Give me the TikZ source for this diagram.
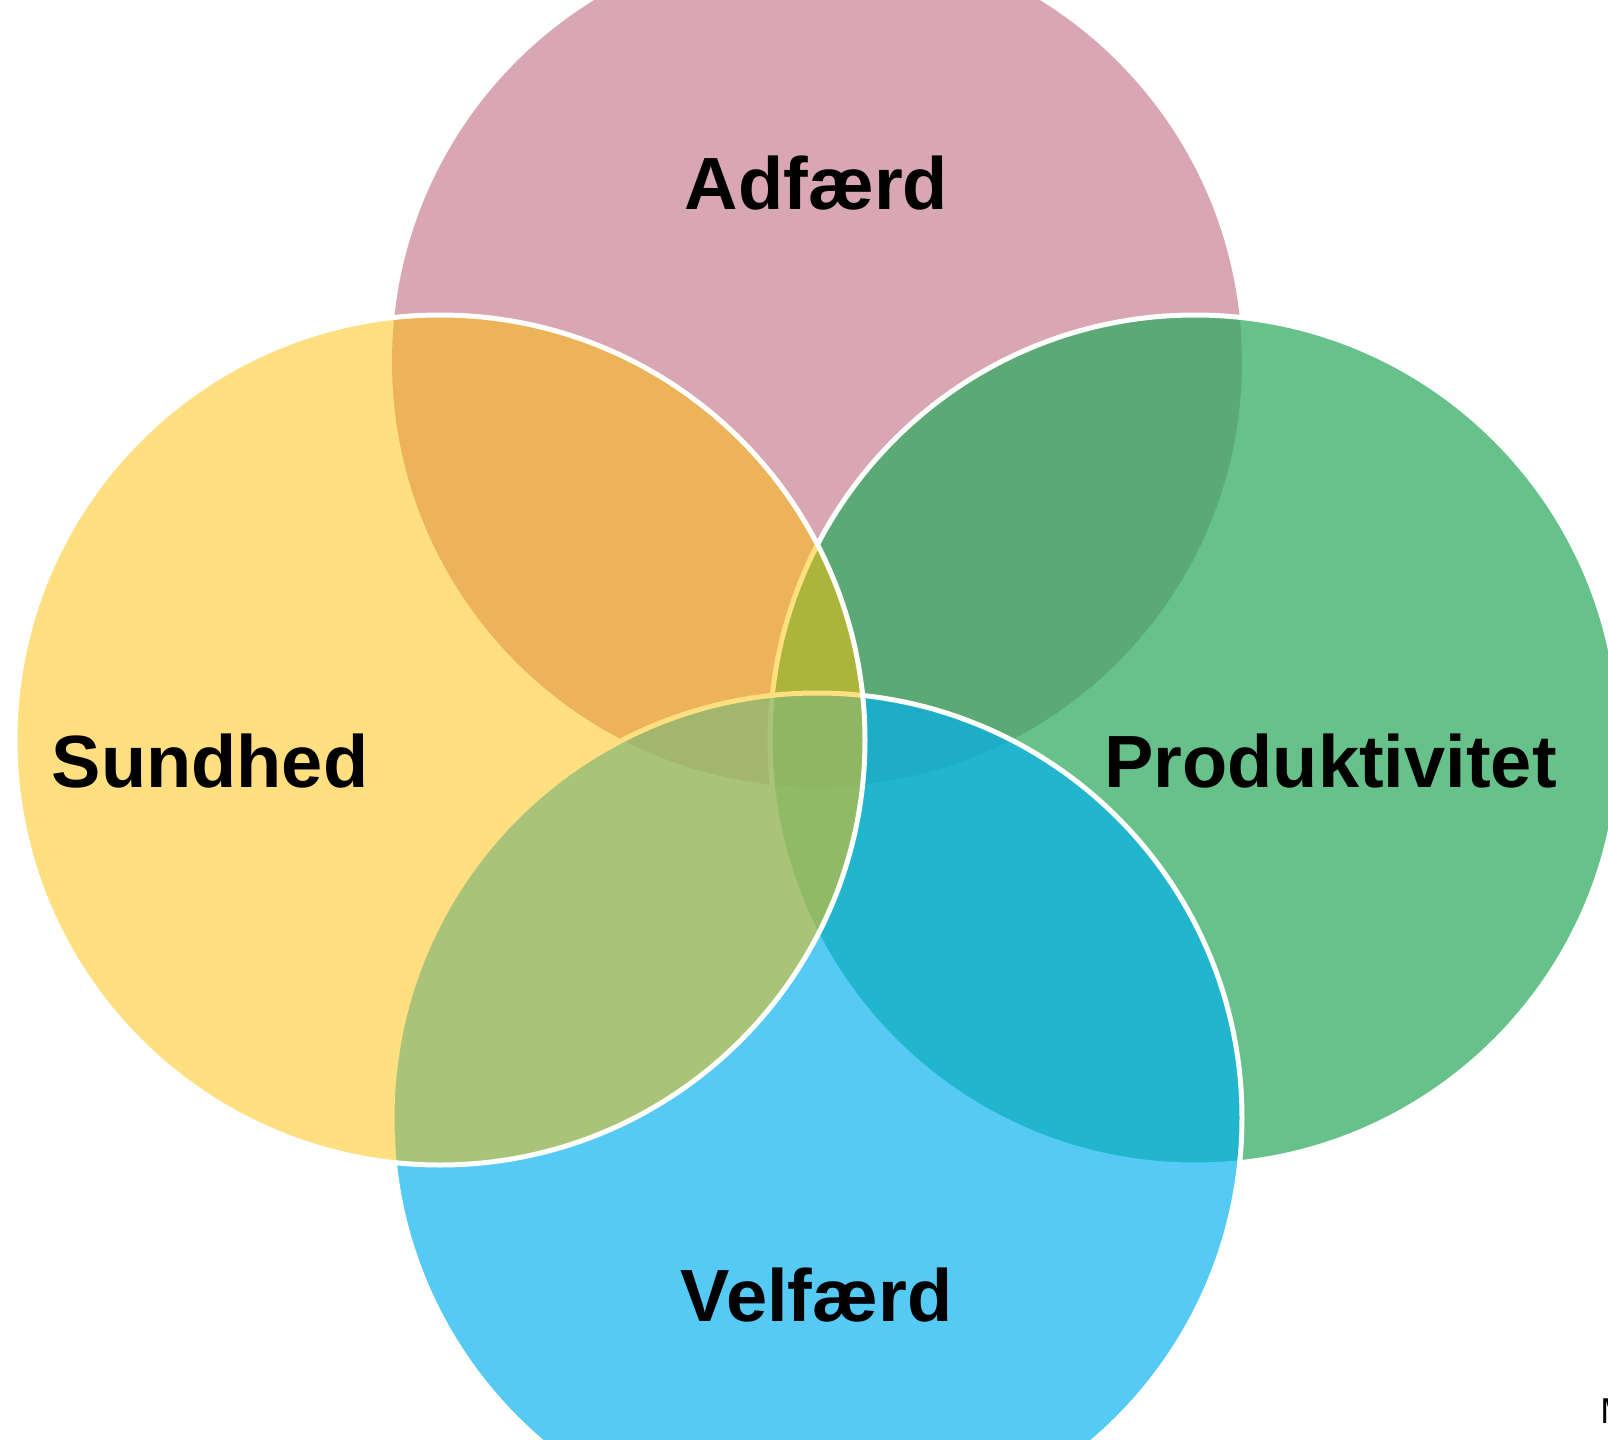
\documentclass[tikz,border=0pt]{standalone}
\usepackage{fontspec}
\setmainfont{Liberation Sans}
\usetikzlibrary{positioning}
\definecolor{adfpink}{RGB}{217,167,180}
\definecolor{prodgreen}{RGB}{43,171,94}
\definecolor{velfblue}{RGB}{0,176,240}
\definecolor{sundyellow}{RGB}{255,192,0}

\begin{document}
\begin{tikzpicture}[x=0.5pt,y=-0.5pt,
		ring/.style={circle,minimum size=425pt,inner sep=0pt,draw=white,line width=2.5pt},
		tag/.style={anchor=base,font=\fontsize{37}{40}\selectfont\bfseries}]
		\useasboundingbox (0,0) rectangle (1608,1440);
		\clip (0,0) rectangle (1608,1440);
		\fill[white] (0,0) rectangle (1608,1440);
		% circles, back to front
		\node[ring,fill=adfpink,draw=none] (adf) at (817,362) {};
		\node[ring,fill=prodgreen,fill opacity=0.72] (prod) at (1195,740) {};
		\node[ring,fill=velfblue,fill opacity=0.67] (velf) at (817,1118) {};
		\node[ring,fill=sundyellow,fill opacity=0.5] (sund) at (440,740) {};
		% labels
		\node[tag] (adftxt) at (816.5,209) {Adfærd};
		\node[tag] (sundtxt) at (210,787) {Sundhed};
		\node[tag] (prodtxt) at (1330.5,787) {Produktivitet};
		\node[tag] (velftxt) at (816.5,1321) {Velfærd};
		\node[anchor=base west,inner sep=0pt,font=\fontsize{18}{20}\selectfont] (mtxt) at (1600,1423) {M};
	\end{tikzpicture}
\end{document}
